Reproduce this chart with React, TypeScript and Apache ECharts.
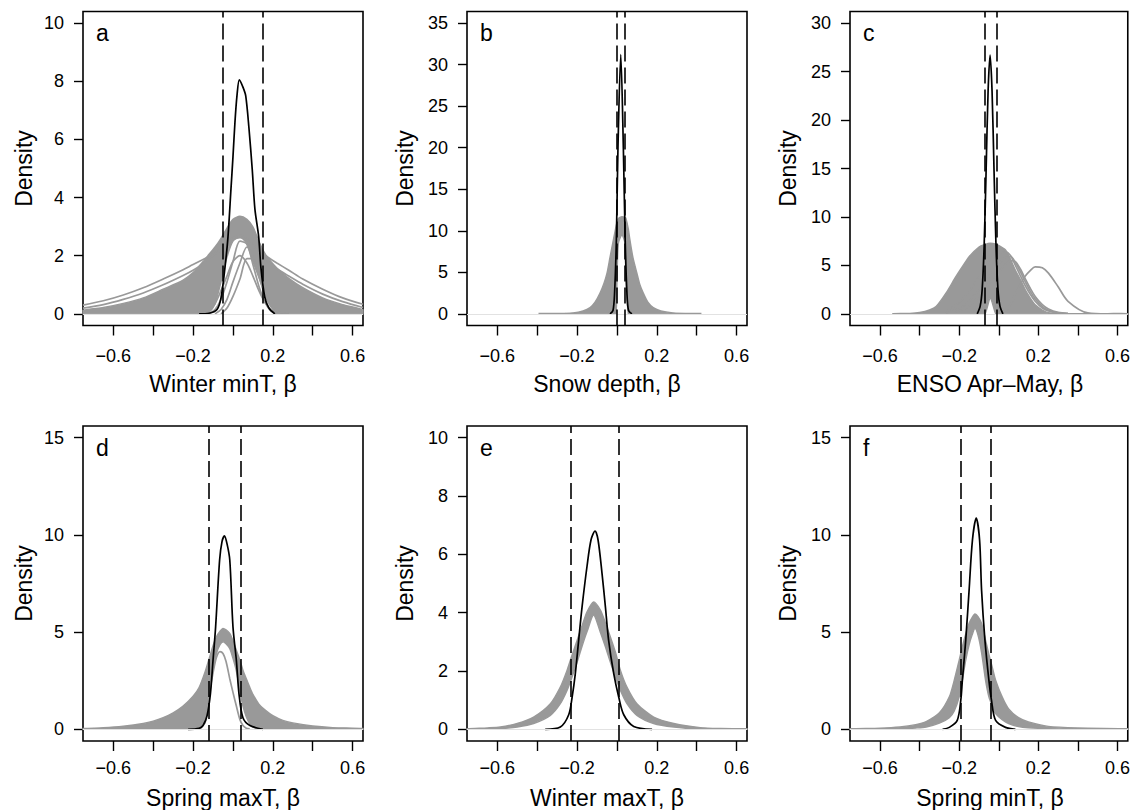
import React, { useEffect, useRef } from "react";
import * as echarts from "echarts";

const FONT = "'Liberation Sans', Arial, Helvetica, sans-serif";
const GREY = "#999999";

// shared x axis
const X_MIN = -0.752;
const X_MAX = 0.652;
const xTickValues = [-0.6, -0.4, -0.2, 0, 0.2, 0.4, 0.6];
const xLabelValues = [-0.6, -0.2, 0.2, 0.6];

// ---------- panel a : Winter minT ----------
const aYTicks = [0, 2, 4, 6, 8, 10];
const aX = [-0.752, -0.65, -0.55, -0.45, -0.35, -0.25, -0.2, -0.15, -0.12, -0.09, -0.06, -0.03, 0.0, 0.035, 0.07, 0.1, 0.13, 0.16, 0.19, 0.22, 0.28, 0.35, 0.45, 0.55, 0.652];
const aUpper = [0.12, 0.22, 0.36, 0.55, 0.85, 1.16, 1.42, 1.8, 2.05, 2.3, 2.6, 2.95, 3.25, 3.36, 3.25, 2.99, 2.5, 2.08, 1.8, 1.58, 1.22, 0.9, 0.55, 0.32, 0.14];
const aLower = [0, 0, 0, 0, 0, 0, 0, 0, 0.05, 0.35, 1.1, 1.95, 2.5, 2.65, 2.4, 1.8, 1.25, 0.7, 0.3, 0.02, 0, 0, 0, 0, 0];
const aWide1 = [0.3, 0.45, 0.65, 0.9, 1.2, 1.52, 1.7, 1.87, 1.98, 2.1, 2.25, 2.45, 2.62, 2.7, 2.6, 2.4, 2.2, 2.02, 1.88, 1.75, 1.5, 1.2, 0.85, 0.55, 0.33];
const aWide2 = [0.2, 0.32, 0.5, 0.72, 1.0, 1.32, 1.5, 1.72, 1.9, 2.05, 2.2, 2.4, 2.55, 2.62, 2.55, 2.35, 2.12, 1.92, 1.72, 1.55, 1.3, 1.02, 0.68, 0.42, 0.22];
const aIn1 = [null, null, null, null, null, null, null, null, 0, 0.15, 0.5, 1.1, 1.8, 2.5, 2.4, 1.7, 0.95, 0.4, 0.1, 0, null, null, null, null, null];
const aIn2 = [null, null, null, null, null, null, null, null, null, 0, 0.15, 0.5, 1.1, 1.75, 2.3, 1.95, 1.3, 0.65, 0.25, 0.05, 0, null, null, null, null];
const aIn3 = [null, null, null, null, null, null, null, 0, 0.1, 0.35, 0.8, 1.3, 1.8, 2.0, 1.75, 1.3, 0.8, 0.4, 0.15, 0.03, 0, null, null, null, null];
const aIn4 = [null, null, null, null, null, null, null, null, null, null, 0, 0.2, 0.6, 1.2, 1.9, 1.9, 1.4, 0.8, 0.35, 0.1, 0, null, null, null, null];
const aBlackX = [-0.17, -0.12, -0.08, -0.06, -0.04, -0.025, -0.01, 0.0, 0.01, 0.02, 0.032, 0.05, 0.064, 0.08, 0.097, 0.11, 0.129, 0.14, 0.159, 0.18, 0.21];
const aBlackY = [0, 0.02, 0.15, 0.55, 1.6, 2.65, 4.3, 5.4, 6.6, 7.5, 8.05, 7.8, 7.5, 6.4, 4.93, 3.6, 2.65, 1.6, 0.59, 0.2, 0];
const aDashed = [-0.053, 0.151];

// ---------- panel b : Snow depth ----------
const bYTicks = [0, 5, 10, 15, 20, 25, 30, 35];
const bX = [-0.39, -0.3, -0.22, -0.17, -0.135, -0.11, -0.085, -0.065, -0.05, -0.035, -0.018, -0.005, 0.0, 0.007, 0.025, 0.04, 0.045, 0.057, 0.065, 0.08, 0.1, 0.115, 0.132, 0.155, 0.182, 0.22, 0.28, 0.35, 0.42];
const bUpper = [0.05, 0.06, 0.12, 0.35, 0.75, 1.4, 2.5, 3.7, 4.9, 6.8, 8.9, 10.5, 11.0, 11.5, 11.7, 11.6, 11.5, 10.2, 8.9, 6.8, 4.9, 3.5, 2.5, 1.4, 0.75, 0.35, 0.12, 0.06, 0.05];
const bLower = [0, 0, 0, 0, 0, 0, 0, 0, 0, 0, 0, 0, 4, 8.5, 9.5, 8.5, 4, 0, 0, 0, 0, 0, 0, 0, 0, 0, 0, 0, 0];
const bBlackX = [-0.035, -0.02, -0.012, -0.003, 0.005, 0.019, 0.032, 0.041, 0.05, 0.058, 0.075];
const bBlackY = [0, 0.4, 2.5, 9, 20, 31.2, 20, 9, 2.5, 0.4, 0];
const bDashed = [-0.003, 0.045];

// ---------- panel c : ENSO Apr-May ----------
const cYTicks = [0, 5, 10, 15, 20, 25, 30];
const cX = [-0.535, -0.45, -0.4, -0.35, -0.317, -0.267, -0.217, -0.18, -0.15, -0.1, -0.07, -0.043, -0.015, 0.0, 0.034, 0.06, 0.084, 0.11, 0.134, 0.16, 0.184, 0.22, 0.251, 0.3, 0.35, 0.45, 0.55, 0.652];
const cUpper = [0.03, 0.05, 0.14, 0.4, 0.75, 2.13, 3.84, 5.0, 5.9, 6.9, 7.15, 7.28, 7.2, 7.05, 6.6, 5.6, 4.5, 3.5, 2.47, 1.6, 0.93, 0.4, 0.13, 0.05, 0.03, 0.03, 0.03, 0.03];
const cLower = [0, 0, 0, 0, 0, 0, 0, 0, 0, 0, 0, 1.6, 0, 0, 0, 0, 0, 0, 0, 0, 0, 0, 0, 0, 0, 0, 0, 0];
const cFan1 = [null, null, null, null, null, 0.3, 0.9, 1.6, 2.3, 3.8, 4.8, 5.6, 6.1, 6.3, 6.4, 6.0, 5.0, 3.9, 2.9, 2.0, 1.3, 0.6, 0.3, 0.08, 0.02, null, null, null];
const cFan2 = [null, null, null, null, null, 0.1, 0.4, 0.8, 1.3, 2.5, 3.3, 4.1, 4.8, 5.2, 5.8, 5.9, 5.3, 4.3, 3.3, 2.3, 1.55, 0.75, 0.38, 0.1, 0.03, null, null, null];
const cFan3 = [null, null, null, null, null, null, 0.2, 0.45, 0.8, 1.8, 2.6, 3.3, 4.0, 4.3, 5.1, 5.5, 5.4, 4.6, 3.6, 2.6, 1.8, 0.95, 0.5, 0.15, 0.04, null, null, null];
const cBump = [null, null, null, null, null, null, null, null, null, null, null, null, null, 0.05, 0.3, 1.0, 2.0, 3.1, 3.9, 4.5, 4.85, 4.75, 4.2, 2.8, 1.3, 0.1, 0.0, null];
const cBlackX = [-0.109, -0.094, -0.084, -0.074, -0.064, -0.054, -0.044, -0.034, -0.024, -0.014, -0.004, 0.006, 0.021];
const cBlackY = [0, 0.8, 2.5, 7, 14.8, 23, 26.7, 23, 14.8, 7, 2.5, 0.8, 0];
const cDashed = [-0.071, -0.015];

// ---------- panel d : Spring maxT ----------
const dYTicks = [0, 5, 10, 15];
const dX = [-0.752, -0.65, -0.55, -0.45, -0.4, -0.35, -0.3, -0.25, -0.2, -0.17, -0.14, -0.117, -0.1, -0.083, -0.065, -0.05, -0.035, -0.016, 0.0, 0.017, 0.035, 0.05, 0.067, 0.084, 0.1, 0.13, 0.16, 0.2, 0.25, 0.3, 0.4, 0.5, 0.652];
const dUpper = [0.04, 0.08, 0.16, 0.3, 0.42, 0.6, 0.85, 1.2, 1.7, 2.15, 2.95, 3.72, 4.3, 4.76, 5.05, 5.19, 5.12, 4.93, 4.55, 4.07, 3.55, 3.04, 2.6, 2.17, 1.8, 1.3, 1.0, 0.7, 0.46, 0.33, 0.17, 0.09, 0.04];
const dLower = [0, 0, 0, 0, 0, 0, 0, 0, 0, 0, 0.35, 2.0, 3.04, 3.9, 4.35, 4.5, 4.4, 4.15, 3.65, 3.0, 1.95, 1.2, 0.64, 0.3, 0.12, 0, 0, 0, 0, 0, 0, 0, 0];
const dInner = [null, null, null, null, null, null, null, null, null, null, 0.3, 1.9, 2.9, 3.7, 4.0, 3.9, 3.5, 2.6, 1.9, 1.2, 0.5, 0.2, 0.06, 0.02, null, null, null, null, null, null, null, null, null];
const dBlackX = [-0.225, -0.17, -0.15, -0.13, -0.113, -0.1, -0.087, -0.067, -0.055, -0.043, -0.03, -0.016, 0.0, 0.017, 0.03, 0.05, 0.085, 0.15];
const dBlackY = [0, 0.05, 0.2, 0.7, 1.84, 3.55, 5.27, 8.71, 9.65, 9.95, 9.55, 8.71, 5.27, 3.55, 1.84, 0.6, 0.2, 0];
const dDashed = [-0.12, 0.037];

// ---------- panel e : Winter maxT ----------
const eYTicks = [0, 2, 4, 6, 8, 10];
const eX = [-0.752, -0.65, -0.585, -0.5, -0.418, -0.334, -0.284, -0.25, -0.225, -0.2, -0.175, -0.15, -0.117, -0.083, -0.058, -0.033, -0.008, 0.017, 0.05, 0.1, 0.184, 0.285, 0.418, 0.52, 0.652];
const eUpper = [0.02, 0.05, 0.08, 0.2, 0.42, 0.88, 1.45, 2.03, 2.55, 3.05, 3.55, 4.03, 4.37, 4.09, 3.65, 3.17, 2.65, 2.03, 1.45, 0.88, 0.42, 0.2, 0.06, 0.03, 0.02];
const eLower = [0, 0, 0.02, 0.08, 0.2, 0.48, 0.88, 1.34, 1.8, 2.3, 2.85, 3.35, 3.92, 3.32, 2.83, 2.3, 1.8, 1.34, 0.88, 0.48, 0.2, 0.08, 0.01, 0, 0];
const eBlackX = [-0.36, -0.284, -0.242, -0.225, -0.209, -0.192, -0.175, -0.15, -0.13, -0.11, -0.095, -0.075, -0.058, -0.042, -0.016, 0.009, 0.034, 0.084, 0.176];
const eBlackY = [0, 0.08, 0.5, 1.1, 1.9, 3.06, 4.2, 5.6, 6.5, 6.8, 6.5, 5.35, 4.2, 3.06, 1.9, 1.1, 0.5, 0.1, 0];
const eDashed = [-0.23, 0.008];

// ---------- panel f : Spring minT ----------
const fYTicks = [0, 5, 10, 15];
const fX = [-0.752, -0.6, -0.5, -0.42, -0.367, -0.3, -0.25, -0.225, -0.2, -0.184, -0.167, -0.15, -0.135, -0.12, -0.105, -0.087, -0.067, -0.05, -0.033, -0.016, 0.017, 0.05, 0.1, 0.15, 0.25, 0.4, 0.652];
const fUpper = [0.03, 0.06, 0.12, 0.24, 0.4, 0.85, 1.67, 2.53, 3.56, 4.25, 4.9, 5.45, 5.75, 5.93, 5.8, 5.45, 4.59, 3.85, 3.2, 2.53, 1.67, 1.05, 0.6, 0.38, 0.15, 0.07, 0.03];
const fLower = [0, 0, 0.03, 0.07, 0.12, 0.32, 0.6, 0.95, 1.67, 2.53, 3.56, 4.35, 4.85, 5.19, 4.85, 3.95, 2.53, 1.67, 1.2, 0.81, 0.5, 0.3, 0.14, 0.08, 0.03, 0, 0];
const fBlackX = [-0.284, -0.25, -0.21, -0.192, -0.184, -0.167, -0.15, -0.133, -0.114, -0.097, -0.087, -0.07, -0.05, -0.037, -0.016, 0.034, 0.084];
const fBlackY = [0, 0.1, 0.46, 1.5, 2.53, 4.59, 7.16, 9.74, 10.86, 9.74, 7.16, 4.59, 2.53, 1.5, 0.46, 0.1, 0];
const fDashed = [-0.19, -0.037];

type Panel = {
  letter: string;
  title: string;
  box: [number, number, number, number];
  yMin: number;
  yMax: number;
  yTicks: number[];
  massX: number[];
  massU: number[];
  massL: number[];
  greyLines: (number | null)[][];
  blackX: number[];
  blackY: number[];
  dashed: number[];
  xLabelMargin: number;
  titleY: number;
  densityX: number;
};

const PANELS: Panel[] = [
  { letter: "a", title: "Winter minT, \u03b2", box: [83, 11.5, 280, 314], yMin: -0.4, yMax: 10.4, yTicks: aYTicks,
    massX: aX, massU: aUpper, massL: aLower, greyLines: [aWide1, aWide2, aIn1, aIn2, aIn3, aIn4],
    blackX: aBlackX, blackY: aBlackY, dashed: aDashed, xLabelMargin: 21, titleY: 384, densityX: 24 },
  { letter: "b", title: "Snow depth, \u03b2", box: [467, 11.5, 280, 314], yMin: -1.4, yMax: 36.4, yTicks: bYTicks,
    massX: bX, massU: bUpper, massL: bLower, greyLines: [],
    blackX: bBlackX, blackY: bBlackY, dashed: bDashed, xLabelMargin: 21, titleY: 384, densityX: 405 },
  { letter: "c", title: "ENSO Apr\u2013May, \u03b2", box: [850, 11.5, 280, 314], yMin: -1.2, yMax: 31.2, yTicks: cYTicks,
    massX: cX, massU: cUpper, massL: cLower, greyLines: [cFan1, cFan2, cFan3, cBump],
    blackX: cBlackX, blackY: cBlackY, dashed: cDashed, xLabelMargin: 21, titleY: 384, densityX: 788 },
  { letter: "d", title: "Spring maxT, \u03b2", box: [83, 426, 280, 315], yMin: -0.6, yMax: 15.6, yTicks: dYTicks,
    massX: dX, massU: dUpper, massL: dLower, greyLines: [dInner],
    blackX: dBlackX, blackY: dBlackY, dashed: dDashed, xLabelMargin: 18, titleY: 798, densityX: 24 },
  { letter: "e", title: "Winter maxT, \u03b2", box: [467, 426, 280, 315], yMin: -0.4, yMax: 10.4, yTicks: eYTicks,
    massX: eX, massU: eUpper, massL: eLower, greyLines: [],
    blackX: eBlackX, blackY: eBlackY, dashed: eDashed, xLabelMargin: 18, titleY: 798, densityX: 405 },
  { letter: "f", title: "Spring minT, \u03b2", box: [850, 426, 280, 315], yMin: -0.6, yMax: 15.6, yTicks: fYTicks,
    massX: fX, massU: fUpper, massL: fLower, greyLines: [],
    blackX: fBlackX, blackY: fBlackY, dashed: fDashed, xLabelMargin: 18, titleY: 798, densityX: 788 },
];

function fmtX(v: number) {
  return (Math.round(v * 10) / 10).toFixed(1).replace("-", "\u2212");
}

function buildOption() {
  const grid: any[] = [];
  const xAxis: any[] = [];
  const yAxis: any[] = [];
  const series: any[] = [];
  const graphic: any[] = [];

  PANELS.forEach((p, i) => {
    const [left, top, width, height] = p.box;
    grid.push({ left, top, width, height, show: true, borderColor: "#000", borderWidth: 1.6, backgroundColor: "transparent", containLabel: false });

    xAxis.push({
      type: "value", gridIndex: i, min: X_MIN, max: X_MAX,
      axisLine: { show: false, onZero: false },
      splitLine: { show: false },
      axisTick: { show: true, length: 10, customValues: xTickValues, lineStyle: { color: "#000", width: 1.4 } },
      axisLabel: { customValues: xLabelValues, formatter: fmtX, margin: p.xLabelMargin, color: "#000", fontSize: 18, fontFamily: FONT },
    });
    yAxis.push({
      type: "value", gridIndex: i, min: p.yMin, max: p.yMax,
      axisLine: { show: false, onZero: false },
      splitLine: { show: false },
      axisTick: { show: true, length: 9, customValues: p.yTicks, lineStyle: { color: "#000", width: 1.4 } },
      axisLabel: { customValues: p.yTicks, formatter: (v: number) => String(v), margin: 19, color: "#000", fontSize: 18, fontFamily: FONT },
    });

    // light horizontal zero line
    series.push({
      type: "line", xAxisIndex: i, yAxisIndex: i, data: [], z: 1, silent: true,
      markLine: { silent: true, symbol: ["none", "none"], label: { show: false }, animation: false,
        lineStyle: { color: "#e2e2e2", width: 1, type: "solid" }, data: [{ yAxis: 0 }] },
    });

    // grey mass of posterior densities (band between upper and lower envelopes)
    series.push({
      type: "custom", xAxisIndex: i, yAxisIndex: i, z: 2, silent: true,
      data: [[0, 0]],
      renderItem: (params: any, api: any) => {
        const pts: number[][] = [];
        for (let k = 0; k < p.massX.length; k++) pts.push(api.coord([p.massX[k], p.massU[k]]));
        for (let k = p.massX.length - 1; k >= 0; k--) pts.push(api.coord([p.massX[k], p.massL[k]]));
        let minX = Infinity, minY = Infinity, maxX = -Infinity, maxY = -Infinity;
        pts.forEach((pt) => {
          minX = Math.min(minX, pt[0]); maxX = Math.max(maxX, pt[0]);
          minY = Math.min(minY, pt[1]); maxY = Math.max(maxY, pt[1]);
        });
        return {
          type: "polygon",
          shape: { points: pts, smooth: 0.25, smoothConstraint: [[minX, minY], [maxX, maxY]] },
          style: { fill: GREY, stroke: GREY, lineWidth: 1.4 },
        };
      },
    });

    // distinct grey curves
    p.greyLines.forEach((ys) => {
      const data = p.massX.map((x, k) => [x, ys[k]]).filter((d) => d[1] !== null);
      series.push({
        type: "line", xAxisIndex: i, yAxisIndex: i, z: 3, silent: true, data,
        showSymbol: false, symbol: "none", smooth: 0.3,
        lineStyle: { color: GREY, width: 1.7 },
      });
    });

    // black density + dashed interval lines
    series.push({
      type: "line", xAxisIndex: i, yAxisIndex: i, z: 4, silent: true,
      data: p.blackX.map((x, k) => [x, p.blackY[k]]),
      showSymbol: false, symbol: "none", smooth: 0.3,
      lineStyle: { color: "#000", width: 1.7 },
      markLine: { silent: true, symbol: ["none", "none"], label: { show: false }, animation: false,
        lineStyle: { color: "#000", width: 1.6, type: [16, 6] },
        data: p.dashed.map((v) => ({ xAxis: v })) },
    });

    // texts
    graphic.push({
      type: "text", x: left + 13, y: top + 21.5, silent: true,
      style: { text: p.letter, fontSize: 23, fontFamily: FONT, fill: "#000", align: "left", verticalAlign: "middle", textAlign: "left", textVerticalAlign: "middle" },
    });
    graphic.push({
      type: "text", x: left + width / 2, y: p.titleY, silent: true,
      style: { text: p.title, fontSize: 23, fontFamily: FONT, fill: "#000", align: "center", verticalAlign: "middle", textAlign: "center", textVerticalAlign: "middle" },
    });
    graphic.push({
      type: "text", x: p.densityX, y: top + height / 2, rotation: Math.PI / 2, silent: true,
      style: { text: "Density", fontSize: 23, fontFamily: FONT, fill: "#000", align: "center", verticalAlign: "middle", textAlign: "center", textVerticalAlign: "middle" },
    });
  });

  return {
    animation: false,
    backgroundColor: "#ffffff",
    textStyle: { fontFamily: FONT },
    grid, xAxis, yAxis, series, graphic,
  };
}

export default function App() {
  const ref = useRef<HTMLDivElement>(null);
  useEffect(() => {
    if (!ref.current) return;
    const chart = echarts.init(ref.current, null, { renderer: "svg" });
    chart.setOption(buildOption() as any);
    return () => chart.dispose();
  }, []);
  return (
    <div
      ref={ref}
      style={{ position: "absolute", left: 0, top: 0, width: 1133, height: 810, background: "#fff" }}
    />
  );
}
